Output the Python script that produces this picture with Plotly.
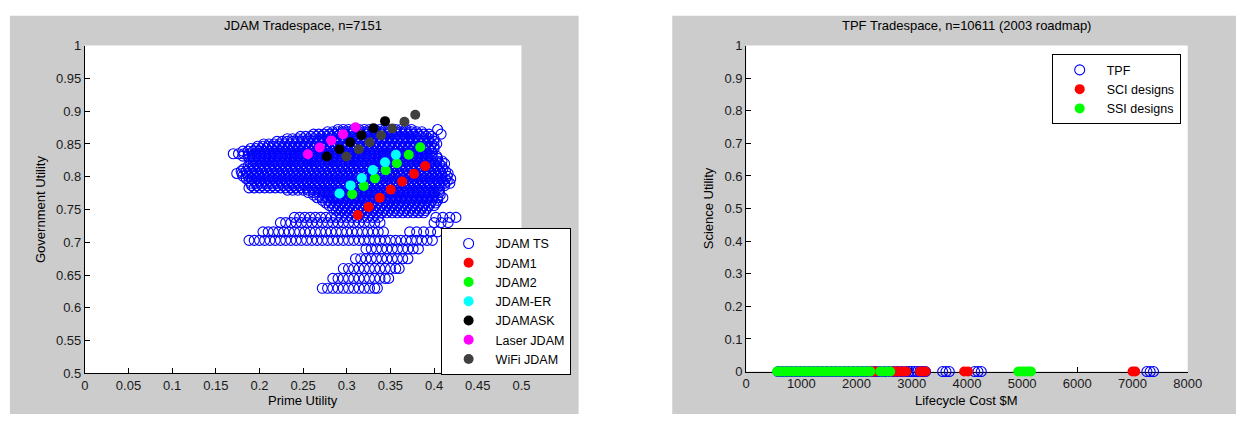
import plotly.graph_objects as go

# ---------------- JDAM tradespace (left) ----------------
# Blue open-circle cloud, read row by row: government utility level and prime utility values (x1000)
ts_row_y = [0.872, 0.8685, 0.865, 0.8615, 0.858, 0.854, 0.850, 0.8465, 0.843, 0.839, 0.835, 0.8315,
            0.828, 0.824, 0.820, 0.816, 0.812, 0.8085, 0.805, 0.801, 0.797, 0.7935, 0.790, 0.7865,
            0.783, 0.7795, 0.776, 0.772, 0.768, 0.764, 0.760, 0.756, 0.752, 0.7485, 0.745,
            0.738, 0.730, 0.716, 0.703, 0.690, 0.675, 0.660, 0.645, 0.630]
ts_row_x = [
    [290, 296, 302, 308, 314, 320, 326, 332, 338, 344, 350, 356, 362, 368, 374, 404],
    [278, 284, 290, 296, 302, 308, 314, 320, 326, 332, 338, 344, 350, 356, 362, 368, 374, 380, 386],
    [262, 268, 274, 280, 286, 292, 298, 304, 310, 316, 322, 328, 334, 340, 346, 352, 358, 364, 370, 376, 382, 388, 394, 408],
    [247, 253, 259, 265, 271, 277, 283, 289, 295, 301, 307, 313, 319, 325, 331, 337, 343, 349, 355, 361, 367, 373, 379, 385, 391, 397],
    [232, 238, 244, 250, 256, 262, 268, 274, 280, 286, 292, 298, 304, 310, 316, 322, 328, 334, 340, 346, 352, 358, 364, 370, 376, 382, 388, 394, 400],
    [220, 226, 232, 238, 244, 250, 256, 262, 268, 274, 280, 286, 292, 298, 304, 310, 316, 322, 328, 334, 340, 346, 352, 358, 364, 370, 376, 382, 388, 394, 400],
    [205, 211, 217, 223, 229, 235, 241, 247, 253, 259, 265, 271, 277, 283, 289, 295, 301, 307, 313, 319, 325, 331, 337, 343, 349, 355, 361, 367, 373, 379, 385, 391, 397, 403],
    [198, 204, 210, 216, 222, 228, 234, 240, 246, 252, 258, 264, 270, 276, 282, 288, 294, 300, 306, 312, 318, 324, 330, 336, 342, 348, 354, 360, 366, 372, 378, 384, 390, 396, 400],
    [190, 196, 202, 208, 214, 220, 226, 232, 238, 244, 250, 256, 262, 268, 274, 280, 286, 292, 298, 304, 310, 316, 322, 328, 334, 340, 346, 352, 358, 364, 370, 376, 382, 388, 394, 400],
    [181, 187, 193, 199, 205, 211, 217, 223, 229, 235, 241, 247, 253, 259, 265, 271, 277, 283, 289, 295, 301, 307, 313, 319, 325, 331, 337, 343, 349, 355, 361, 367, 373, 379, 385, 391, 397],
    [170, 176, 182, 188, 194, 200, 206, 212, 218, 224, 230, 236, 242, 248, 254, 260, 266, 272, 278, 284, 290, 296, 302, 308, 314, 320, 326, 332, 338, 344, 350, 356, 362, 368, 374, 380, 386, 392, 398],
    [181, 187, 193, 199, 205, 211, 217, 223, 229, 235, 241, 247, 253, 259, 265, 271, 277, 283, 289, 295, 301, 307, 313, 319, 325, 331, 337, 343, 349, 355, 361, 367, 373, 379, 385, 391, 397, 403],
    [188, 194, 200, 206, 212, 218, 224, 230, 236, 242, 248, 254, 260, 266, 272, 278, 284, 290, 296, 302, 308, 314, 320, 326, 332, 338, 344, 350, 356, 362, 368, 374, 380, 386, 392, 398, 404],
    [193, 199, 205, 211, 217, 223, 229, 235, 241, 247, 253, 259, 265, 271, 277, 283, 289, 295, 301, 307, 313, 319, 325, 331, 337, 343, 349, 355, 361, 367, 373, 379, 385, 391, 397, 403, 409],
    [190, 196, 202, 208, 214, 220, 226, 232, 238, 244, 250, 256, 262, 268, 274, 280, 286, 292, 298, 304, 310, 316, 322, 328, 334, 340, 346, 352, 358, 364, 370, 376, 382, 388, 394, 400, 406, 412],
    [187, 193, 199, 205, 211, 217, 223, 229, 235, 241, 247, 253, 259, 265, 271, 277, 283, 289, 295, 301, 307, 313, 319, 325, 331, 337, 343, 349, 355, 361, 367, 373, 379, 385, 391, 397, 403, 409],
    [182, 188, 194, 200, 206, 212, 218, 224, 230, 236, 242, 248, 254, 260, 266, 272, 278, 284, 290, 296, 302, 308, 314, 320, 326, 332, 338, 344, 350, 356, 362, 368, 374, 380, 386, 392, 398, 404, 410],
    [179, 185, 191, 197, 203, 209, 215, 221, 227, 233, 239, 245, 251, 257, 263, 269, 275, 281, 287, 293, 299, 305, 311, 317, 323, 329, 335, 341, 347, 353, 359, 365, 371, 377, 383, 389, 395, 401, 407, 413],
    [174, 180, 186, 192, 198, 204, 210, 216, 222, 228, 234, 240, 246, 252, 258, 264, 270, 276, 282, 288, 294, 300, 306, 312, 318, 324, 330, 336, 342, 348, 354, 360, 366, 372, 378, 384, 390, 396, 402, 408, 416],
    [181, 187, 193, 199, 205, 211, 217, 223, 229, 235, 241, 247, 253, 259, 265, 271, 277, 283, 289, 295, 301, 307, 313, 319, 325, 331, 337, 343, 349, 355, 361, 367, 373, 379, 385, 391, 397, 403, 409, 415],
    [185, 191, 197, 203, 209, 215, 221, 227, 233, 239, 245, 251, 257, 263, 269, 275, 281, 287, 293, 299, 305, 311, 317, 323, 329, 335, 341, 347, 353, 359, 365, 371, 377, 383, 389, 395, 401, 407, 413, 419],
    [188, 194, 200, 206, 212, 218, 224, 230, 236, 242, 248, 254, 260, 266, 272, 278, 284, 290, 296, 302, 308, 314, 320, 326, 332, 338, 344, 350, 356, 362, 368, 374, 380, 386, 392, 398, 404, 410, 415],
    [190, 196, 202, 208, 214, 220, 226, 232, 238, 244, 250, 256, 262, 268, 274, 280, 286, 292, 298, 304, 310, 316, 322, 328, 334, 340, 346, 352, 358, 364, 370, 376, 382, 388, 394, 400, 406, 412, 418],
    [191, 197, 203, 209, 215, 221, 227, 233, 239, 245, 251, 257, 263, 269, 275, 281, 287, 293, 299, 305, 311, 317, 323, 329, 335, 341, 347, 353, 359, 365, 371, 377, 383, 389, 395, 401, 407, 412],
    [188, 194, 200, 206, 212, 218, 224, 230, 236, 242, 248, 254, 260, 266, 272, 278, 284, 290, 296, 302, 308, 314, 320, 326, 332, 338, 344, 350, 356, 362, 368, 374, 380, 386, 392, 398, 404],
    [232, 238, 244, 250, 256, 262, 268, 274, 280, 286, 292, 298, 304, 310, 316, 322, 328, 334, 340, 346, 352, 358, 364, 370, 376, 382, 388, 394, 400, 406],
    [256, 262, 268, 274, 280, 286, 292, 298, 304, 310, 316, 322, 328, 334, 340, 346, 352, 358, 364, 370, 376, 382, 388, 394, 400, 406],
    [262, 268, 274, 280, 286, 292, 298, 304, 310, 316, 322, 328, 334, 340, 346, 352, 358, 364, 370, 376, 382, 388, 394, 400, 407],
    [266, 272, 278, 284, 290, 296, 302, 308, 314, 320, 326, 332, 338, 344, 350, 356, 362, 368, 374, 380, 386, 392, 398, 404, 410],
    [272, 278, 284, 290, 296, 302, 308, 314, 320, 326, 332, 338, 344, 350, 356, 362, 368, 374, 380, 386, 392, 398, 404],
    [276, 282, 288, 294, 300, 306, 312, 318, 324, 330, 336, 342, 348, 354, 360, 366, 372, 378, 384, 390, 396, 402],
    [280, 286, 292, 298, 304, 310, 316, 322, 328, 334, 340, 346, 352, 358, 364, 370, 376, 382, 388, 394, 400],
    [284, 290, 296, 302, 308, 314, 320, 326, 332, 338, 344, 350, 356, 362, 368, 374, 380, 386, 392],
    [288, 294, 300, 306, 312, 318, 324, 330, 336, 342, 348, 354, 360, 366, 372, 378, 384, 390],
    [292, 298, 304, 310, 316, 322, 328, 334, 340, 346, 352, 358, 364, 370, 376, 382, 388],
    [240, 246, 252, 258, 264, 270, 276, 282, 288, 294, 300, 306, 312, 318, 324, 330, 336, 402, 410, 418, 425],
    [224, 230, 236, 242, 248, 254, 260, 266, 272, 278, 284, 290, 296, 302, 308, 314, 320, 326, 332, 338, 400, 408, 416],
    [204, 210, 216, 222, 228, 234, 240, 246, 252, 258, 264, 270, 276, 282, 288, 294, 300, 306, 312, 318, 324, 330, 336, 342, 372, 380, 388, 396, 404],
    [188, 194, 200, 206, 212, 218, 224, 230, 236, 242, 248, 254, 260, 266, 272, 278, 284, 290, 296, 302, 308, 314, 320, 326, 332, 338, 344, 350, 356, 362, 368, 374, 380, 386, 392, 398],
    [322, 328, 334, 340, 346, 352, 358, 364, 370, 376, 382],
    [310, 316, 322, 328, 334, 340, 346, 352, 358, 364, 370],
    [296, 302, 308, 314, 320, 326, 332, 338, 344, 350, 356, 360],
    [284, 290, 296, 302, 308, 314, 320, 326, 332, 338, 344, 348],
    [272, 278, 284, 290, 296, 302, 308, 314, 320, 326, 332, 335],
]

jdam1_x = [0.3126, 0.3250, 0.3378, 0.3503, 0.3634, 0.3770, 0.3898]
jdam1_y = [0.7416, 0.7540, 0.7680, 0.7804, 0.7926, 0.8044, 0.8162]
jdam2_x = [0.3062, 0.3194, 0.3322, 0.3446, 0.3573, 0.3709, 0.3841]
jdam2_y = [0.7735, 0.7858, 0.7975, 0.8098, 0.8206, 0.8334, 0.8451]
jdamer_x = [0.2916, 0.3043, 0.3172, 0.3299, 0.3438, 0.3562]
jdamer_y = [0.7745, 0.7868, 0.7980, 0.8103, 0.8220, 0.8334]
jdamask_x = [0.2772, 0.2916, 0.3039, 0.3167, 0.3306, 0.3438]
jdamask_y = [0.8309, 0.8420, 0.8525, 0.8632, 0.8740, 0.8848]
laser_x = [0.2554, 0.2690, 0.2822, 0.2957, 0.3100]
laser_y = [0.8343, 0.8446, 0.8554, 0.8647, 0.8754]
wifi_x = [0.2995, 0.3138, 0.3262, 0.3393, 0.3521, 0.3660, 0.3784]
wifi_y = [0.8309, 0.8420, 0.8525, 0.8632, 0.8735, 0.8838, 0.8946]

# ---------------- TPF tradespace (right) ----------------
tpf_x = [580, 660, 740, 820, 900, 980, 1060, 1140, 1220, 1300, 1380, 1460, 1540, 1620, 1700, 1780,
         1860, 1940, 2020, 2100, 2180, 2260, 2340, 2420, 2500, 2580, 2660, 2740, 2820, 2900, 2950,
         3000, 3050, 3100, 3150, 3200, 3250, 3560, 3620, 3680, 4140, 4200, 4260, 7260, 7320, 7380]
sci_x = [2250, 2300, 2350, 2650, 2700, 2750, 2800, 2850, 2900, 3150, 3200, 3250, 3950, 4020, 7000, 7050]
ssi_x = [560, 600, 650, 700, 750, 800, 850, 900, 950, 1000, 1050, 1100, 1150, 1200, 1250, 1300, 1350,
         1400, 1450, 1500, 1550, 1600, 1650, 1700, 1750, 1800, 1850, 1900, 1950, 2000, 2050, 2100,
         2150, 2200, 2250, 2430, 2490, 2560, 2610, 4930, 4990, 5050, 5110, 5160]
tpf_y = [0 for _ in tpf_x]
sci_y = [0 for _ in sci_x]
ssi_y = [0 for _ in ssi_x]

x_ticks_left = [0, 0.05, 0.1, 0.15, 0.2, 0.25, 0.3, 0.35, 0.4, 0.45, 0.5]
y_ticks_left = [0.5, 0.55, 0.6, 0.65, 0.7, 0.75, 0.8, 0.85, 0.9, 0.95, 1]
x_ticks_right = [0, 1000, 2000, 3000, 4000, 5000, 6000, 7000, 8000]
y_ticks_right = [0, 0.1, 0.2, 0.3, 0.4, 0.5, 0.6, 0.7, 0.8, 0.9, 1]

# ---------------- figure ----------------
W, H = 1250, 422
FONT = "Liberation Sans, Arial, sans-serif"
GREY = "#cccccc"


def fx(px):
    return px / W


def fy(py):
    return 1 - py / H


ts_x, ts_y = [], []
for yv, xs in zip(ts_row_y, ts_row_x):
    for xv in xs:
        ts_x.append(xv / 1000)
        ts_y.append(yv)

fig = go.Figure()

open_marker = dict(symbol="circle-open", size=10, color="#0000ff", line=dict(width=1.1, color="#0000ff"))


def filled(c):
    return dict(symbol="circle", size=10, color=c, line=dict(width=0))


fig.add_trace(go.Scatter(x=ts_x, y=ts_y, mode="markers", name="JDAM TS", marker=open_marker,
                         xaxis="x", yaxis="y", legend="legend"))
for nm, xs, ys, c in [("JDAM1", jdam1_x, jdam1_y, "#ff0000"),
                      ("JDAM2", jdam2_x, jdam2_y, "#00ff00"),
                      ("JDAM-ER", jdamer_x, jdamer_y, "#00ffff"),
                      ("JDAMASK", jdamask_x, jdamask_y, "#000000"),
                      ("Laser JDAM", laser_x, laser_y, "#ff00ff"),
                      ("WiFi JDAM", wifi_x, wifi_y, "#404040")]:
    fig.add_trace(go.Scatter(x=xs, y=ys, mode="markers", name=nm, marker=filled(c),
                             xaxis="x", yaxis="y", legend="legend"))

fig.add_trace(go.Scatter(x=tpf_x, y=tpf_y, mode="markers", name="TPF", marker=open_marker,
                         xaxis="x2", yaxis="y2", legend="legend2", cliponaxis=False))
fig.add_trace(go.Scatter(x=sci_x, y=sci_y, mode="markers", name="SCI designs", marker=filled("#ff0000"),
                         xaxis="x2", yaxis="y2", legend="legend2", cliponaxis=False))
fig.add_trace(go.Scatter(x=ssi_x, y=ssi_y, mode="markers", name="SSI designs", marker=filled("#00ff00"),
                         xaxis="x2", yaxis="y2", legend="legend2", cliponaxis=False))

axis_common = dict(showgrid=False, zeroline=False, showline=True, linecolor="#000000", linewidth=1,
                   ticks="inside", ticklen=5, tickcolor="#000000", tickwidth=1, mirror=False,
                   tickfont=dict(family=FONT, size=13, color="#1a1a1a"), layer="below traces",
                   fixedrange=True)

L_left, L_right, L_top, L_bottom = 82, 525, 40, 380
R_left, R_right, R_top, R_bottom = 753, 1201, 40, 378

fig.update_layout(
    width=W, height=H, autosize=False, margin=dict(l=0, r=0, t=0, b=0),
    paper_bgcolor="#ffffff", plot_bgcolor="rgba(0,0,0,0)",
    font=dict(family=FONT, size=13, color="#000000"),
    showlegend=True,
    xaxis=dict(domain=[fx(L_left), fx(L_right)], range=[0, 0.5], tickvals=x_ticks_left,
               ticktext=[f"{v:g}" for v in x_ticks_left], anchor="y", **axis_common),
    yaxis=dict(domain=[fy(L_bottom), fy(L_top)], range=[0.5, 1], tickvals=y_ticks_left,
               ticktext=[f"{v:g}" for v in y_ticks_left], anchor="x", **axis_common),
    xaxis2=dict(domain=[fx(R_left), fx(R_right)], range=[0, 8000], tickvals=x_ticks_right,
                ticktext=[f"{v:g}" for v in x_ticks_right], anchor="y2", **axis_common),
    yaxis2=dict(domain=[fy(R_bottom), fy(R_top)], range=[0, 1], tickvals=y_ticks_right,
                ticktext=[f"{v:g}" for v in y_ticks_right], anchor="x2", **axis_common),
    legend=dict(x=fx(443), y=fy(229), xanchor="left", yanchor="top", bgcolor="#ffffff",
                bordercolor="#000000", borderwidth=1, itemwidth=44,
                font=dict(family=FONT, size=12.5, color="#000000")),
    legend2=dict(x=fx(1063), y=fy(49), xanchor="left", yanchor="top", bgcolor="#ffffff",
                 bordercolor="#000000", borderwidth=1, itemwidth=44,
                 font=dict(family=FONT, size=12.5, color="#000000")),
    shapes=[
        dict(type="rect", xref="paper", yref="paper", x0=fx(6), x1=fx(583), y0=0, y1=fy(9),
             fillcolor=GREY, line=dict(width=0), layer="below"),
        dict(type="rect", xref="paper", yref="paper", x0=fx(678), x1=1, y0=0, y1=fy(9),
             fillcolor=GREY, line=dict(width=0), layer="below"),
        dict(type="rect", xref="paper", yref="paper", x0=fx(L_left), x1=fx(L_right), y0=fy(L_bottom),
             y1=fy(L_top), fillcolor="#ffffff", line=dict(width=0), layer="below"),
        dict(type="rect", xref="paper", yref="paper", x0=fx(R_left), x1=fx(R_right), y0=fy(R_bottom),
             y1=fy(R_top), fillcolor="#ffffff", line=dict(width=0), layer="below"),
    ],
    annotations=[
        dict(text="JDAM Tradespace, n=7151", x=fx((L_left + L_right) / 2), y=fy(19), xref="paper",
             yref="paper", showarrow=False, xanchor="center", yanchor="middle", font=dict(size=13)),
        dict(text="TPF Tradespace, n=10611 (2003 roadmap)", x=fx((R_left + R_right) / 2), y=fy(19),
             xref="paper", yref="paper", showarrow=False, xanchor="center", yanchor="middle",
             font=dict(size=13)),
        dict(text="Prime Utility", x=fx((L_left + L_right) / 2), y=fy(408), xref="paper", yref="paper",
             showarrow=False, xanchor="center", yanchor="middle", font=dict(size=13)),
        dict(text="Lifecycle Cost $M", x=fx((R_left + R_right) / 2), y=fy(408), xref="paper", yref="paper",
             showarrow=False, xanchor="center", yanchor="middle", font=dict(size=13)),
        dict(text="Government Utility", x=fx(37), y=fy((L_top + L_bottom) / 2), xref="paper", yref="paper",
             showarrow=False, xanchor="center", yanchor="middle", textangle=-90, font=dict(size=13)),
        dict(text="Science Utility", x=fx(715), y=fy((R_top + R_bottom) / 2), xref="paper", yref="paper",
             showarrow=False, xanchor="center", yanchor="middle", textangle=-90, font=dict(size=13)),
    ],
)

post = (
    "document.documentElement.style.margin='0';document.documentElement.style.padding='0';"
    "document.documentElement.style.overflow='hidden';"
    "document.body.style.margin='0';document.body.style.padding='0';document.body.style.overflow='hidden';"
    "var gd=document.getElementById('{plot_id}');"
    "Plotly.relayout(gd,{width:1250,height:422,autosize:false});"
)

fig.write_html("out.html", config={"displayModeBar": False, "responsive": False}, post_script=post)
